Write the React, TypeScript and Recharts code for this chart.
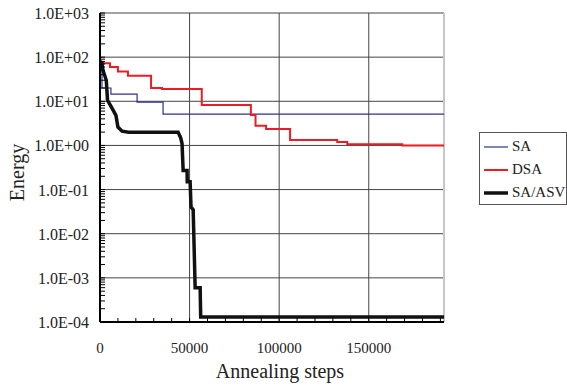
import { LineChart, Line, XAxis, YAxis, CartesianGrid, Legend, ReferenceLine } from 'recharts'

const FONT = '"Liberation Serif", "Times New Roman", serif'

// x axis: annealing steps
const X_MAX = 192000
const X_TICKS = [0, 10000, 20000, 30000, 40000, 50000, 60000, 70000, 80000, 90000, 100000,
  110000, 120000, 130000, 140000, 150000, 160000, 170000, 180000, 190000]
const X_LABELS: Record<number, string> = { 0: '0', 50000: '50000', 100000: '100000', 150000: '150000' }
const X_GRID = [50000, 100000, 150000]

// y axis: energy, log scale
const Y_DECADES = [1e-4, 1e-3, 1e-2, 1e-1, 1, 10, 100, 1000]
const Y_LABELS = ['1.0E-04', '1.0E-03', '1.0E-02', '1.0E-01', '1.0E+00', '1.0E+01', '1.0E+02', '1.0E+03']
const Y_MINOR = [2, 3, 4, 5, 6, 7, 8, 9]
const Y_TICKS = Y_DECADES.flatMap((d, i) =>
  i < Y_DECADES.length - 1 ? [d, ...Y_MINOR.map((m) => m * d)] : [d])

// SA (step after)
const SA = [
  { x: 0, v: 70 },
  { x: 1100, v: 20 },
  { x: 6100, v: 14.6 },
  { x: 20700, v: 9.6 },
  { x: 35200, v: 5.1 },
  { x: 192000, v: 5.1 },
]

// DSA (step after)
const DSA = [
  { x: 0, v: 73 },
  { x: 5600, v: 60 },
  { x: 10000, v: 47 },
  { x: 15600, v: 38 },
  { x: 28500, v: 20 },
  { x: 34600, v: 19 },
  { x: 56800, v: 8.2 },
  { x: 84200, v: 4.9 },
  { x: 86800, v: 2.8 },
  { x: 92700, v: 2.35 },
  { x: 106100, v: 1.32 },
  { x: 132400, v: 1.2 },
  { x: 138000, v: 1.07 },
  { x: 168700, v: 1.0 },
  { x: 192000, v: 1.0 },
]

// SA/ASV (linear)
const SA_ASV = [
  { x: 0, v: 80 },
  { x: 1000, v: 75 },
  { x: 1700, v: 50 },
  { x: 3500, v: 30 },
  { x: 4200, v: 10.5 },
  { x: 6700, v: 7 },
  { x: 8900, v: 4.8 },
  { x: 10000, v: 2.6 },
  { x: 12300, v: 2.1 },
  { x: 16000, v: 2.0 },
  { x: 43600, v: 2.0 },
  { x: 45000, v: 1.5 },
  { x: 45800, v: 1.1 },
  { x: 46400, v: 0.27 },
  { x: 48600, v: 0.27 },
  { x: 48700, v: 0.15 },
  { x: 50300, v: 0.15 },
  { x: 50800, v: 0.04 },
  { x: 52000, v: 0.035 },
  { x: 53100, v: 0.0006 },
  { x: 55900, v: 0.0006 },
  { x: 56200, v: 0.00013 },
  { x: 192000, v: 0.00013 },
]

const LEGEND_ORDER = ['SA', 'DSA', 'SA/ASV']
const LEGEND_STYLE: Record<string, { color: string; width: number }> = {
  SA: { color: '#2c3190', width: 1.2 },
  DSA: { color: '#ec1c24', width: 2 },
  'SA/ASV': { color: '#111', width: 3.5 },
}

function YTick(props: any) {
  const { x, y, payload } = props
  const i = Y_DECADES.indexOf(payload.value)
  return (
    <g>
      <line x1={x + 11} x2={x + 16} y1={y} y2={y} stroke="#000" strokeWidth={1} />
      {i >= 0 && (
        <text x={x} y={y} dy={6} textAnchor="end" style={{ fontFamily: FONT, fontSize: 16 }} fill="#222">
          {Y_LABELS[i]}
        </text>
      )}
    </g>
  )
}

function XTick(props: any) {
  const { x, y, payload } = props
  const label = X_LABELS[payload.value]
  return (
    <g>
      <line x1={x} x2={x} y1={y - 20} y2={y - 24} stroke="#000" strokeWidth={1} />
      {label && (
        <text x={x} y={y} dy={11} textAnchor="middle" style={{ fontFamily: FONT, fontSize: 15 }} fill="#222">
          {label}
        </text>
      )}
    </g>
  )
}

function renderLegend(props: any) {
  const items = [...(props.payload ?? [])].sort(
    (a: any, b: any) => LEGEND_ORDER.indexOf(a.value) - LEGEND_ORDER.indexOf(b.value))
  return (
    <div style={{ border: '1px solid #555', background: '#fff', padding: '2px 0 0 4px', fontFamily: FONT, fontSize: 15, color: '#222' }}>
      {items.map((e: any) => {
        const s = LEGEND_STYLE[e.value]
        return (
          <div key={e.value} style={{ display: 'flex', alignItems: 'center', height: 23 }}>
            <svg width={24} height={6} style={{ marginRight: 4 }}>
              <line x1={0} x2={24} y1={3} y2={3} stroke={s.color} strokeWidth={s.width} />
            </svg>
            <span>{e.value}</span>
          </div>
        )
      })}
    </div>
  )
}

export default function App() {
  return (
    <div style={{ position: 'absolute', left: 0, top: 0, background: '#fff', fontFamily: FONT }}>
      <LineChart width={567} height={387} margin={{ top: 13, right: 123, bottom: 0, left: 0 }}>
        <CartesianGrid horizontalValues={Y_DECADES} verticalValues={X_GRID} stroke="#444" strokeWidth={1} />
        <XAxis
          dataKey="x"
          type="number"
          domain={[0, X_MAX]}
          ticks={X_TICKS}
          interval={0}
          height={65}
          tickSize={0}
          tickMargin={20}
          tickLine={false}
          tick={<XTick />}
          axisLine={{ stroke: '#000', strokeWidth: 2 }}
          allowDataOverflow
          label={{
            content: ({ viewBox }: any) => (
              <text x={viewBox.x + viewBox.width / 2 + 8} y={viewBox.y + 56} textAnchor="middle"
                style={{ fontFamily: FONT, fontSize: 20 }} fill="#222">Annealing steps</text>
            ),
          }}
        />
        <YAxis
          type="number"
          scale="log"
          domain={[1e-4, 1000]}
          ticks={Y_TICKS}
          interval={0}
          width={100}
          tickSize={0}
          tickMargin={11}
          tickLine={false}
          tick={<YTick />}
          axisLine={{ stroke: '#000', strokeWidth: 2 }}
          allowDataOverflow
          label={{
            content: ({ viewBox }: any) => {
              const cx = viewBox.x + 24
              const cy = viewBox.y + viewBox.height / 2 + 5
              return (
                <text x={cx} y={cy} transform={`rotate(-90 ${cx} ${cy})`} textAnchor="middle"
                  style={{ fontFamily: FONT, fontSize: 20 }} fill="#222">Energy</text>
              )
            },
          }}
        />
        <ReferenceLine x={X_MAX} stroke="#c4c8cc" strokeWidth={2} />
        <Line data={SA} dataKey="v" name="SA" type="stepAfter" stroke="#2c3190" strokeWidth={1.2}
          dot={false} isAnimationActive={false} />
        <Line data={DSA} dataKey="v" name="DSA" type="stepAfter" stroke="#ec1c24" strokeWidth={2}
          dot={false} isAnimationActive={false} />
        <Line data={SA_ASV} dataKey="v" name="SA/ASV" type="linear" stroke="#111" strokeWidth={3.5}
          dot={false} isAnimationActive={false} />
        <Legend
          layout="vertical"
          align="center"
          verticalAlign="middle"
          content={renderLegend}
          wrapperStyle={{ left: 479, top: 132, width: 88 }}
        />
      </LineChart>
    </div>
  )
}
